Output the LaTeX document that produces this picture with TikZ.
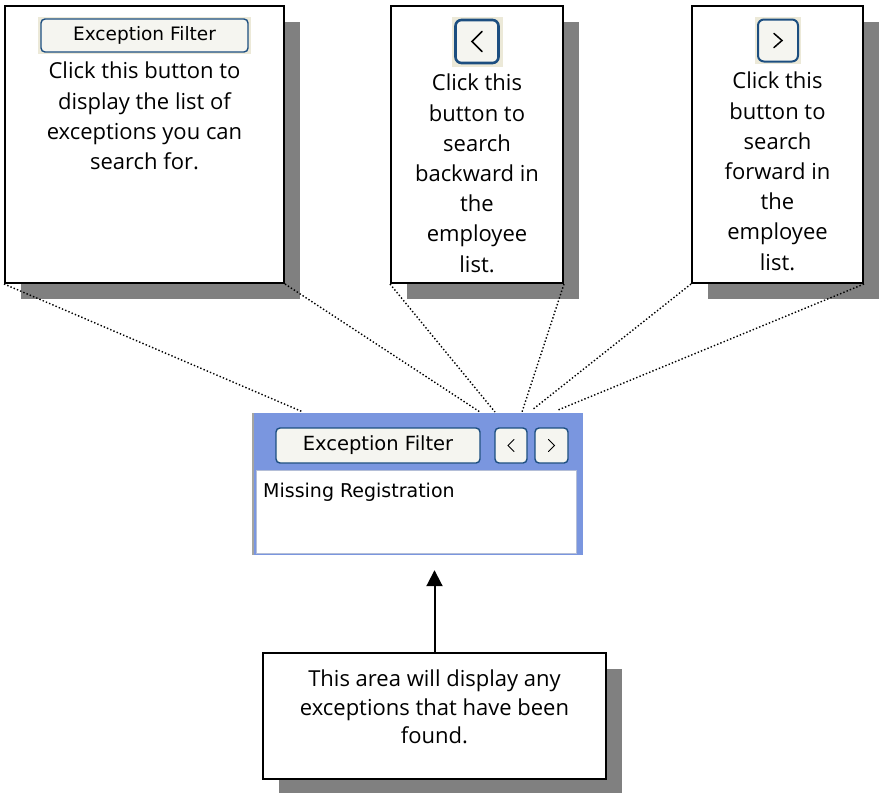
\documentclass[tikz,border=0pt]{standalone}
\usepackage{fontspec}
\setmainfont{Open Sans}
\newfontfamily\widgetfont{DejaVu Sans}
\usetikzlibrary{arrows.meta,shadows}

\definecolor{shadowgray}{RGB}{128,128,128}
\definecolor{btnblue}{RGB}{28,78,128}
\definecolor{btnface}{RGB}{245,245,240}
\definecolor{btnback}{RGB}{236,233,216}
\definecolor{panelblue}{RGB}{122,150,223}
\definecolor{paneledge}{RGB}{165,165,160}
\definecolor{listedge}{RGB}{180,190,215}

\tikzset{
  callout/.style={draw=black, line width=2pt, fill=white, inner sep=0pt,
    general shadow={fill=shadowgray, shadow xshift=16pt, shadow yshift=-16pt}},
  note/.style={align=center, inner sep=0pt, font=\fontsize{22}{30.2}\selectfont},
  winbtn/.style={draw=btnblue, line width=1.4pt, rounded corners=4pt, fill=btnface,
    inner sep=0pt, font=\widgetfont\fontsize{19.5}{22}\selectfont},
  chevron/.style={line width=1.5pt, line cap=round, line join=miter},
  leader/.style={line width=1.4pt, dash pattern=on 1.4pt off 2.1pt},
  pointer/.style={line width=2pt, -{Triangle[width=16pt,length=16pt]}}
}

\begin{document}
\begin{tikzpicture}[x=1pt,y=-1pt]
  \useasboundingbox (0,0) rectangle (879,793);

  \node[callout, minimum width=279pt, minimum height=277pt] (filterbox) at (144.5,144.5) {};
  \node[callout, minimum width=172pt, minimum height=277pt] (backbox) at (477,144.5) {};
  \node[callout, minimum width=171pt, minimum height=277pt] (fwdbox) at (777.5,144.5) {};
  \node[callout, minimum width=343pt, minimum height=126pt] (areabox) at (434.5,716) {};

  \fill[btnback] (38,17) rectangle (251,54);
  \node[winbtn, minimum width=207pt, minimum height=33pt, font=\widgetfont\fontsize{18.5}{22}\selectfont] (filterbtn) at (144.5,35.5) {Exception Filter};
  \fill[btnback] (452,17) rectangle (503,67);
  \node[winbtn, minimum width=43pt, minimum height=43pt, line width=2.6pt, rounded corners=6pt] (backbtn) at (477,41.5) {};
  \draw[chevron, shift={(backbtn.center)}] (5,-10) -- (-5,0) -- (5,10);
  \fill[btnback] (755,17) rectangle (801,64);
  \node[winbtn, minimum width=40pt, minimum height=42pt, line width=2pt, rounded corners=6pt] (fwdbtn) at (778,40.5) {};
  \draw[chevron, shift={(fwdbtn.center)}] (-4,-7) -- (4,0) -- (-4,7);

  \node[note, anchor=north] (filtertext) at (144.5,62) {Click this button to\\display the list of\\exceptions you can\\search for.};
  \node[note, anchor=north] (backtext) at (477,74) {Click this\\button to\\search\\backward in\\the\\employee\\list.};
  \node[note, anchor=north] (fwdtext) at (777.5,72) {Click this\\button to\\search\\forward in\\the\\employee\\list.};
  \node[note, anchor=north, font=\fontsize{22}{28.5}\selectfont] (areatext) at (434.5,670) {This area will display any\\exceptions that have been\\found.};

  \node[fill=panelblue, inner sep=0pt, minimum width=330pt, minimum height=142pt] (panel) at (418,484) {};
  \draw[paneledge, line width=2.5pt] (panel.north west) -- (panel.south west);
  \node[draw=listedge, fill=white, inner sep=0pt, minimum width=320pt, minimum height=83pt] (exclist) at (416.5,511.5) {};
  \node[anchor=base west, inner sep=0pt, font=\widgetfont\fontsize{19}{22}\selectfont] (missing) at (263,497) {Missing Registration};
  \node[winbtn, minimum width=204pt, minimum height=35pt] (pfilter) at (378,445.5) {Exception Filter};
  \node[winbtn, minimum width=32pt, minimum height=35pt] (pback) at (511,445.5) {};
  \draw[chevron, line width=1pt, shift={(pback.center)}] (3,-6) -- (-3,0) -- (3,6);
  \node[winbtn, minimum width=33pt, minimum height=35pt] (pfwd) at (551.5,445.5) {};
  \draw[chevron, line width=1pt, shift={(pfwd.center)}] (-3,-6) -- (3,0) -- (-3,6);

  \coordinate (t1) at (303,412);
  \coordinate (t2) at (480,412);
  \coordinate (t3) at (495,412);
  \coordinate (t4) at (522,412);
  \coordinate (t5) at (532,410);
  \coordinate (t6) at (558,410);
  \draw[leader] (filterbox.south west) -- (t1);
  \draw[leader] (filterbox.south east) -- (t2);
  \draw[leader] (backbox.south west) -- (t3);
  \draw[leader] (backbox.south east) -- (t4);
  \draw[leader] (fwdbox.south west) -- (t5);
  \draw[leader] (fwdbox.south east) -- (t6);

  \draw[pointer, shorten >=15pt] (areabox.north) -- (areabox.north |- panel.south);
\end{tikzpicture}
\end{document}
